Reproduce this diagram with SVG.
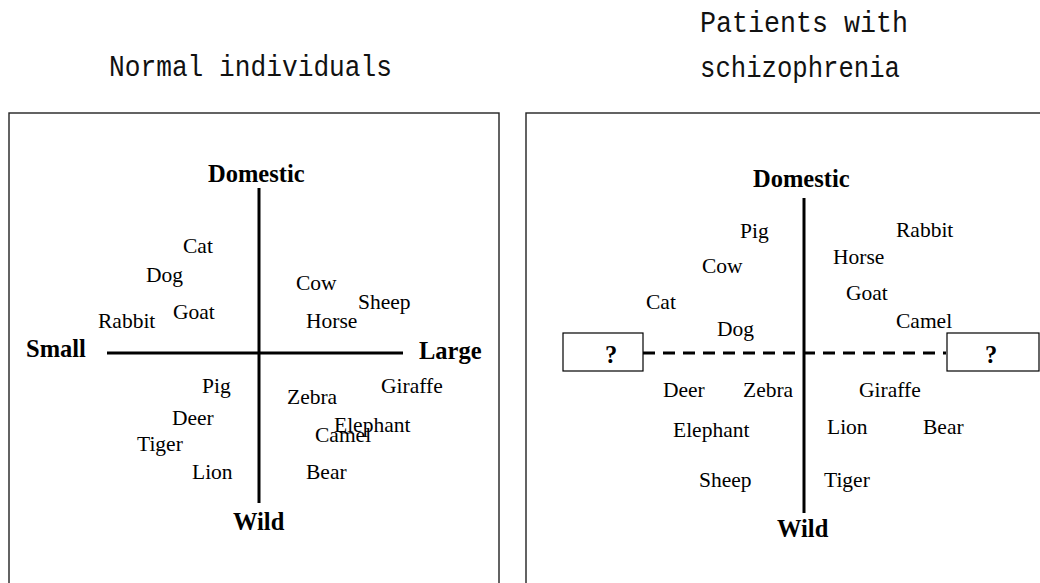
<svg xmlns="http://www.w3.org/2000/svg" width="1040" height="583" viewBox="0 0 1040 583">
  <style>
    .title { font-family: "Liberation Mono", "DejaVu Sans Mono", monospace; font-size: 30px; fill: #111; }
    .frame { fill: none; stroke: #222; stroke-width: 1.4; }
    .axis { stroke: #000; stroke-width: 3; fill: none; }
    .dash { stroke: #000; stroke-width: 3; stroke-dasharray: 12 8; fill: none; }
    .pole { font-family: "Liberation Serif", "Times New Roman", serif; font-size: 24.5px; font-weight: bold; fill: #000; }
    .animal { font-family: "Liberation Serif", "Times New Roman", serif; font-size: 21.5px; fill: #000; }
    .qbox { fill: #fff; stroke: #000; stroke-width: 1.2; }
  </style>

  <rect width="1040" height="583" fill="#fff"/>

  <!-- Panel titles -->
  <g id="title-normal">
    <text class="title" x="109" y="76" textLength="283" lengthAdjust="spacingAndGlyphs">Normal individuals</text>
  </g>
  <g id="title-patients">
    <text class="title" x="700" y="32" textLength="208" lengthAdjust="spacingAndGlyphs">Patients with</text>
    <text class="title" x="700" y="77" textLength="200" lengthAdjust="spacingAndGlyphs">schizophrenia</text>
  </g>

  <!-- Panel frames (continue past the lower / right edge) -->
  <rect class="frame" x="9" y="113" width="490" height="500"/>
  <rect class="frame" x="526" y="113" width="540" height="500"/>

  <!-- Axes -->
  <g id="connectors">
    <line class="axis" x1="259" y1="188" x2="259" y2="503"/>
    <line class="axis" x1="107" y1="353" x2="403" y2="353"/>
    <line class="axis" x1="804" y1="198" x2="804" y2="513"/>
    <line class="dash" x1="643" y1="353" x2="946" y2="353"/>
  </g>

  <!-- Left panel: normal individuals -->
  <g id="normal-poles">
    <text class="pole" x="208" y="182">Domestic</text>
    <text class="pole" x="26" y="357">Small</text>
    <text class="pole" x="419" y="359">Large</text>
    <text class="pole" x="233" y="530">Wild</text>
  </g>
  <g id="normal-animals">
    <text class="animal" x="183" y="253">Cat</text>
    <text class="animal" x="146" y="282">Dog</text>
    <text class="animal" x="296" y="290">Cow</text>
    <text class="animal" x="358" y="309">Sheep</text>
    <text class="animal" x="98" y="328">Rabbit</text>
    <text class="animal" x="173" y="319">Goat</text>
    <text class="animal" x="306" y="328">Horse</text>
    <text class="animal" x="202" y="393">Pig</text>
    <text class="animal" x="287" y="404">Zebra</text>
    <text class="animal" x="381" y="393">Giraffe</text>
    <text class="animal" x="172" y="425">Deer</text>
    <!-- Elephant and Camel sit on top of each other in this quadrant -->
    <text class="animal" x="334" y="432">Elephant</text>
    <text class="animal" x="315" y="442">Camel</text>
    <text class="animal" x="137" y="451">Tiger</text>
    <text class="animal" x="192" y="479">Lion</text>
    <text class="animal" x="306" y="479">Bear</text>
  </g>

  <!-- Right panel: patients with schizophrenia -->
  <g id="patient-poles">
    <text class="pole" x="753" y="187">Domestic</text>
    <text class="pole" x="777" y="537">Wild</text>
  </g>
  <g id="unknown-left">
    <rect class="qbox" x="563" y="333" width="80" height="38"/>
    <text class="pole" x="611" y="363" text-anchor="middle">?</text>
  </g>
  <g id="unknown-right">
    <rect class="qbox" x="947" y="333" width="92" height="38"/>
    <text class="pole" x="991" y="363" text-anchor="middle">?</text>
  </g>
  <g id="patient-animals">
    <text class="animal" x="740" y="238">Pig</text>
    <text class="animal" x="896" y="237">Rabbit</text>
    <text class="animal" x="833" y="264">Horse</text>
    <text class="animal" x="702" y="273">Cow</text>
    <text class="animal" x="846" y="300">Goat</text>
    <text class="animal" x="646" y="309">Cat</text>
    <text class="animal" x="896" y="328">Camel</text>
    <text class="animal" x="717" y="336">Dog</text>
    <text class="animal" x="663" y="397">Deer</text>
    <text class="animal" x="743" y="397">Zebra</text>
    <text class="animal" x="859" y="397">Giraffe</text>
    <text class="animal" x="673" y="437">Elephant</text>
    <text class="animal" x="827" y="434">Lion</text>
    <text class="animal" x="923" y="434">Bear</text>
    <text class="animal" x="699" y="487">Sheep</text>
    <text class="animal" x="824" y="487">Tiger</text>
  </g>
</svg>
